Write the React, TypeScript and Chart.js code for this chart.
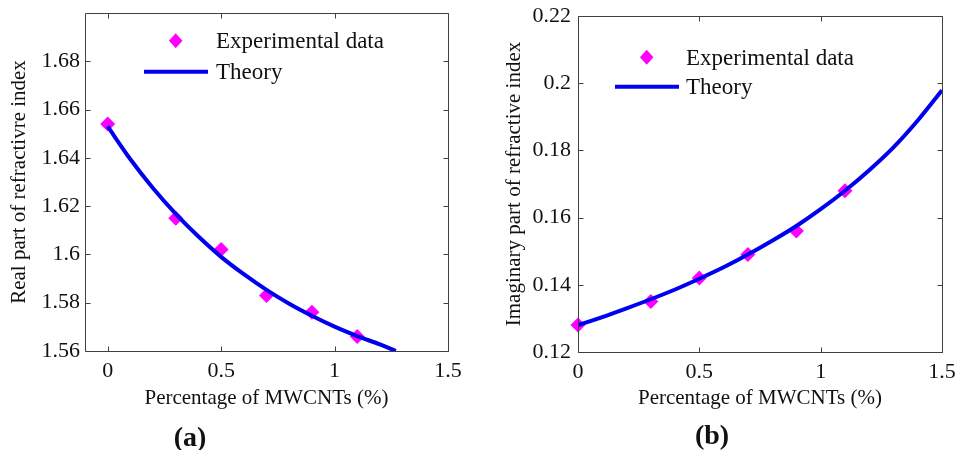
import React, { useEffect, useRef } from 'react';
import { Chart, registerables } from 'chart.js';

Chart.register(...registerables);

// ---------- data ----------
const expX = [0, 0.3, 0.5, 0.7, 0.9, 1.1];
const realExp = [1.654, 1.615, 1.602, 1.583, 1.576, 1.566];
const imagExp = [0.128, 0.135, 0.142, 0.149, 0.156, 0.168];

const realTheoryX = [0, 0.1, 0.2, 0.3, 0.4, 0.5, 0.6, 0.7, 0.8, 0.9, 1.0, 1.1, 1.2, 1.27];
const realTheoryY = [1.653, 1.6394, 1.6274, 1.6168, 1.6074, 1.599, 1.5918, 1.5853, 1.5796, 1.5746, 1.5701, 1.5662, 1.5627, 1.56];

const imagTheoryX = [0, 0.1, 0.2, 0.3, 0.4, 0.5, 0.6, 0.7, 0.8, 0.9, 1.0, 1.1, 1.2, 1.3, 1.4, 1.5];
const imagTheoryY = [0.128, 0.1304, 0.133, 0.1357, 0.1386, 0.1418, 0.1452, 0.149, 0.1531, 0.1575, 0.1625, 0.168, 0.1741, 0.1809, 0.1889, 0.1979];

const xTicks = [0, 0.5, 1, 1.5];
const realYTicks = [1.56, 1.58, 1.6, 1.62, 1.64, 1.66, 1.68];
const imagYTicks = [0.12, 0.14, 0.16, 0.18, 0.2, 0.22];

const xTitle = 'Percentage of MWCNTs (%)';
const realYTitle = 'Real part of refractivre index';
const imagYTitle = 'Imaginary part of refractive index';
const expLabel = 'Experimental data';
const theoryLabel = 'Theory';

// ---------- style ----------
const FONT = "'Liberation Serif', 'Times New Roman', serif";
const MAGENTA = '#ff00ff';
const BLUE = '#0000f0';
const FRAME = '#404040';
const TEXT = '#111111';

const fmt = (v: any) => String(parseFloat(Number(v).toFixed(4)));

const framePlugin = {
  id: 'matlabFrame',
  afterDatasetsDraw(chart: any) {
    const { ctx, chartArea: a, scales } = chart;
    const L = Math.round(a.left) + 0.5;
    const R = Math.round(a.right) + 0.5;
    const T = Math.round(a.top) + 0.5;
    const B = Math.round(a.bottom) + 0.5;
    const len = 5;
    ctx.save();
    ctx.strokeStyle = FRAME;
    ctx.lineWidth = 1;
    ctx.beginPath();
    ctx.rect(L, T, R - L, B - T);
    scales.x.ticks.forEach((t: any) => {
      const px = Math.round(scales.x.getPixelForValue(t.value)) + 0.5;
      ctx.moveTo(px, B);
      ctx.lineTo(px, B - len);
      ctx.moveTo(px, T);
      ctx.lineTo(px, T + len);
    });
    scales.y.ticks.forEach((t: any) => {
      const py = Math.round(scales.y.getPixelForValue(t.value)) + 0.5;
      ctx.moveTo(L, py);
      ctx.lineTo(L + len, py);
      ctx.moveTo(R, py);
      ctx.lineTo(R - len, py);
    });
    ctx.stroke();
    ctx.restore();
  },
};

const insideLegendPlugin = {
  id: 'insideLegend',
  afterDraw(chart: any, _args: any, opts: any) {
    const { ctx, chartArea: a } = chart;
    const ds = chart.data.datasets;
    const exp = ds.find((d: any) => d.role === 'exp');
    const th = ds.find((d: any) => d.role === 'theory');
    const size = opts.fontSize;
    ctx.save();
    // marker
    const mx = a.left + opts.markerDx;
    const my = a.top + opts.markerDy;
    const r = exp.pointRadius;
    ctx.fillStyle = exp.backgroundColor;
    ctx.beginPath();
    ctx.moveTo(mx - r * 0.9, my);
    ctx.lineTo(mx, my - r);
    ctx.lineTo(mx + r * 0.9, my);
    ctx.lineTo(mx, my + r);
    ctx.closePath();
    ctx.fill();
    // line
    const ly = a.top + opts.lineDy;
    ctx.strokeStyle = th.borderColor;
    ctx.lineWidth = th.borderWidth;
    ctx.beginPath();
    ctx.moveTo(a.left + opts.lineX1, ly);
    ctx.lineTo(a.left + opts.lineX2, ly);
    ctx.stroke();
    // text
    ctx.fillStyle = TEXT;
    ctx.font = `${size}px ${FONT}`;
    ctx.textAlign = 'left';
    ctx.textBaseline = 'alphabetic';
    ctx.fillText(exp.label, a.left + opts.textDx, my + size * 0.33);
    ctx.fillText(th.label, a.left + opts.textDx, ly + size * 0.33);
    ctx.restore();
  },
};

function makeConfig(p: any) {
  return {
    type: 'scatter',
    data: {
      datasets: [
        {
          role: 'theory',
          label: theoryLabel,
          data: p.thX.map((x: number, i: number) => ({ x, y: p.thY[i] })),
          showLine: true,
          borderColor: BLUE,
          backgroundColor: BLUE,
          borderWidth: 4,
          pointRadius: 0,
          tension: 0.3,
          clip: 0,
          order: 0,
        },
        {
          role: 'exp',
          label: expLabel,
          data: expX.map((x, i) => ({ x, y: p.expY[i] })),
          showLine: false,
          pointStyle: 'rectRot',
          pointRadius: 7.5,
          backgroundColor: MAGENTA,
          borderColor: MAGENTA,
          borderWidth: 0,
          clip: false,
          order: 1,
        },
      ],
    },
    options: {
      animation: false,
      responsive: false,
      events: [],
      layout: { padding: { top: p.padTop, right: p.padRight, bottom: 0, left: 0 } },
      plugins: {
        legend: { display: false },
        tooltip: { enabled: false },
        insideLegend: p.legend,
      },
      scales: {
        x: {
          type: 'linear',
          min: p.xMin,
          max: p.xMax,
          afterBuildTicks: (s: any) => {
            s.ticks = xTicks.map((v) => ({ value: v }));
          },
          afterFit: (s: any) => {
            s.height = p.xAxisHeight;
            s.paddingLeft = 0;
            s.paddingRight = 0;
          },
          grid: { display: false, drawTicks: false },
          border: { display: false },
          ticks: {
            font: { family: FONT, size: 22 },
            color: TEXT,
            padding: p.xTickPad,
            maxRotation: 0,
            callback: fmt,
          },
          title: {
            display: true,
            text: xTitle,
            font: { family: FONT, size: 21 },
            color: TEXT,
            padding: { top: 0, bottom: p.xTitlePad },
          },
        },
        y: {
          type: 'linear',
          min: p.yMin,
          max: p.yMax,
          afterBuildTicks: (s: any) => {
            s.ticks = p.yTicks.map((v: number) => ({ value: v }));
          },
          afterFit: (s: any) => {
            s.width = p.yAxisWidth;
            s.paddingTop = 0;
            s.paddingBottom = 0;
          },
          grid: { display: false, drawTicks: false },
          border: { display: false },
          ticks: {
            font: { family: FONT, size: 22 },
            color: TEXT,
            padding: p.yTickPad,
            callback: fmt,
          },
          title: {
            display: true,
            text: p.yTitle,
            font: { family: FONT, size: 21 },
            color: TEXT,
            padding: { top: p.yTitlePad, bottom: 0 },
          },
        },
      },
    },
    plugins: [framePlugin, insideLegendPlugin],
  };
}

const leftParams = {
  thX: realTheoryX,
  thY: realTheoryY,
  expY: realExp,
  xMin: -0.1,
  xMax: 1.5,
  yMin: 1.56,
  yMax: 1.7,
  yTicks: realYTicks,
  yTitle: realYTitle,
  padTop: 13,
  padRight: 32,
  xAxisHeight: 99,
  yAxisWidth: 85,
  xTickPad: 7,
  xTitlePad: 39,
  yTickPad: 5,
  yTitlePad: 7,
  legend: { fontSize: 23, markerDx: 90.7, markerDy: 27.7, lineX1: 59, lineX2: 123, lineDy: 58.7, textDx: 131 },
};

const rightParams = {
  thX: imagTheoryX,
  thY: imagTheoryY,
  expY: imagExp,
  xMin: 0,
  xMax: 1.5,
  yMin: 0.12,
  yMax: 0.22,
  yTicks: imagYTicks,
  yTitle: imagYTitle,
  padTop: 16,
  padRight: 15,
  xAxisHeight: 98,
  yAxisWidth: 98,
  xTickPad: 7,
  xTitlePad: 39,
  yTickPad: 7,
  yTitlePad: 22,
  legend: { fontSize: 23, markerDx: 68.7, markerDy: 41.3, lineX1: 37, lineX2: 101, lineDy: 70.7, textDx: 108 },
};

function Panel({ params, left, width }: { params: any; left: number; width: number }) {
  const ref = useRef<HTMLCanvasElement>(null);
  useEffect(() => {
    const chart = new Chart(ref.current as HTMLCanvasElement, makeConfig(params) as any);
    return () => chart.destroy();
  }, [params]);
  return (
    <div style={{ position: 'absolute', left, top: 0, width, height: 450 }}>
      <canvas ref={ref} width={width} height={450} style={{ display: 'block' }} />
    </div>
  );
}

const panelLabel: React.CSSProperties = {
  position: 'absolute',
  transform: 'translate(-50%, -50%)',
  fontFamily: FONT,
  fontWeight: 'bold',
  fontSize: 28,
  color: TEXT,
  lineHeight: 1,
  whiteSpace: 'nowrap',
};

export default function App() {
  return (
    <div style={{ position: 'fixed', left: 0, top: 0, width: 957, height: 450, background: '#ffffff', overflow: 'hidden' }}>
      <Panel params={leftParams} left={0} width={480} />
      <Panel params={rightParams} left={480} width={477} />
      <div style={{ ...panelLabel, left: 190, top: 437 }}>(a)</div>
      <div style={{ ...panelLabel, left: 712, top: 435 }}>(b)</div>
    </div>
  );
}
